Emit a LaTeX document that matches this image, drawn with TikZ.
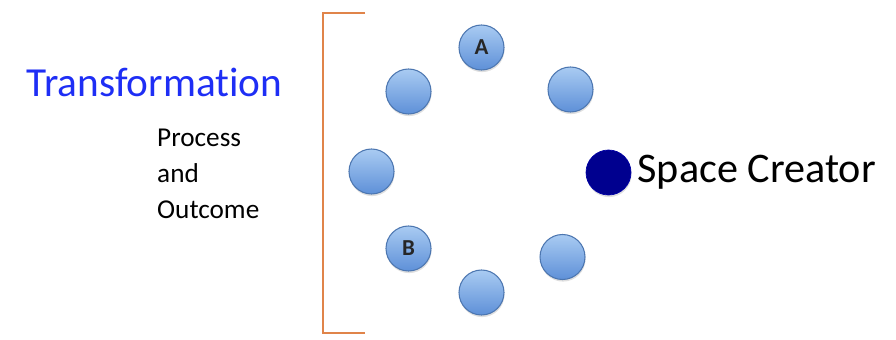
\documentclass[tikz,border=0pt]{standalone}
\usepackage{fontspec}
\setmainfont{Carlito}[Ligatures=CommonOff]
\usepackage{xcolor}
\usepackage{tikz}
\usetikzlibrary{positioning, shadows}

\definecolor{memberTop}{HTML}{A9CBF2}
\definecolor{memberBottom}{HTML}{5E90D8}
\definecolor{memberEdge}{HTML}{4C76B0}
\definecolor{creatorBlue}{HTML}{00008F}
\definecolor{bracketOrange}{HTML}{E0844A}
\definecolor{titleBlue}{HTML}{1E2EF5}

\begin{document}
\begin{tikzpicture}[
  member/.style={circle, draw=memberEdge, line width=0.6pt, top color=memberTop, bottom color=memberBottom, minimum size=0.9cm, inner sep=0pt, font=\fontsize{13}{15}\selectfont\bfseries, text=black!85, drop shadow={shadow xshift=0.3pt, shadow yshift=-1.2pt, opacity=0.25}},
  creator/.style={circle, fill=creatorBlue, draw=creatorBlue!80!blue, minimum size=0.9cm, inner sep=0pt, drop shadow={shadow xshift=0.3pt, shadow yshift=-1.2pt, opacity=0.25}},
  bracket/.style={draw=bracketOrange, line width=1.3pt}
]
\useasboundingbox (0,0) rectangle (17.92,6.78);
\node[font=\fontsize{23.5}{28}\selectfont, text=titleBlue] (title) at (3.09,5.14) {Transformation};
\node[font=\fontsize{15.5}{20.5}\selectfont, align=left, anchor=north west] (process) at (3.02,4.32) {Process\\and\\Outcome};
\coordinate (bracketTop) at (7.30,6.52);
\coordinate (bracketBottom) at (7.30,0.12);
\draw[bracket] (bracketTop) -- (6.46,6.52) -- (6.46,0.12) -- (bracketBottom);
\node[member] (a) at (9.63,5.83) {A};
\node[member] (topLeft) at (8.17,4.95) {};
\node[member] (topRight) at (11.41,4.99) {};
\node[member] (left) at (7.43,3.35) {};
\node[member] (b) at (8.17,1.81) {B};
\node[member] (bottomRight) at (11.25,1.64) {};
\node[member] (bottom) at (9.63,0.93) {};
\node[creator] (spaceCreator) at (12.17,3.33) {};
\node[font=\fontsize{24}{28}\selectfont, right=0pt of spaceCreator] (spaceLabel) {Space Creator};
\end{tikzpicture}
\end{document}
